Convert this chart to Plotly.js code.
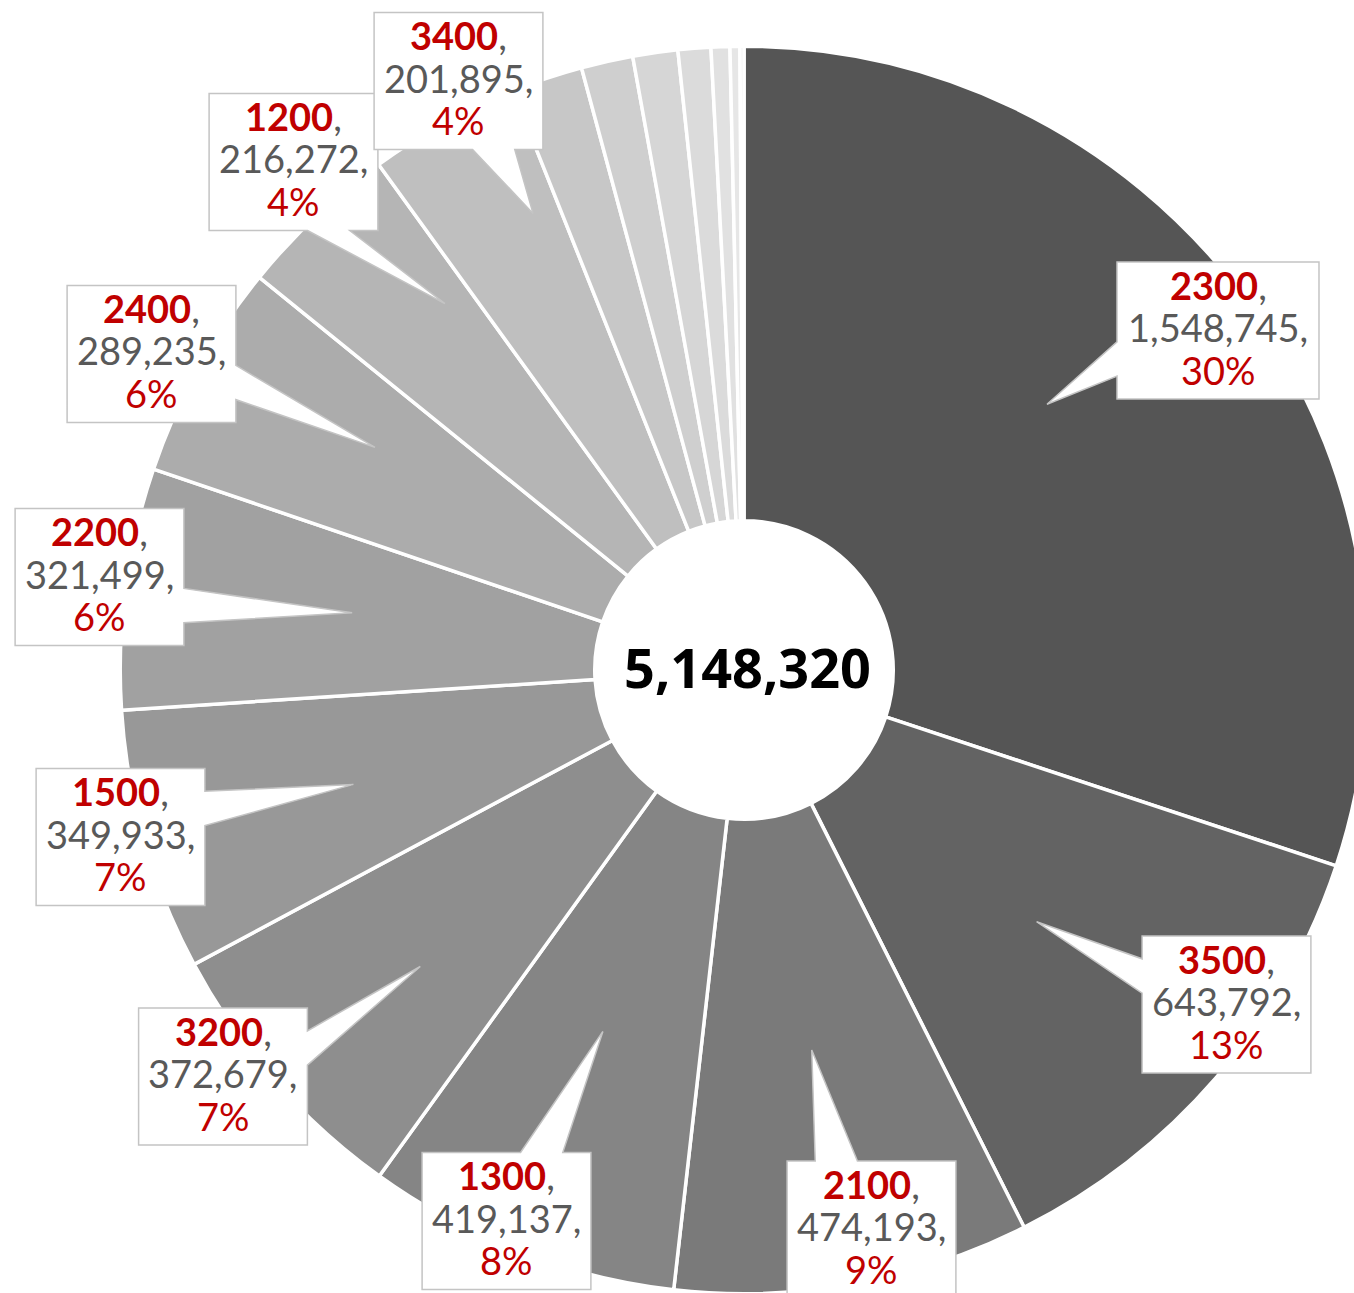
<!DOCTYPE html>
<html><head><meta charset="utf-8">
<script src="https://cdn.plot.ly/plotly-3.0.1.min.js"></script>
<style>html,body{margin:0;padding:0;overflow:hidden;background:#fff}#chart{width:1400px;height:1300px}</style>
</head><body><div id="chart"></div>
<script>
// ---------- data ----------
const categories = ['2300','3500','2100','1300','3200','1500','2200','2400','1200','3400',
                    'Other 1','Other 2','Other 3','Other 4','Other 5','Other 6','Other 7'];
const values = [1548745,643792,474193,419137,372679,349933,321499,289235,216272,201895,
                94960,68930,59920,43620,25030,13160,5320];
const labeledCount = 10;   // first 10 slices carry callouts

// ---------- style / layout ----------
const sliceColors = ['#555555','#636363','#7a7a7a','#858585','#8e8e8e','#989898','#a1a1a1','#acacac','#b5b5b5','#bfbfbf',
                     '#c7c7c7','#cfcfcf','#d6d6d6','#dbdbdb','#e1e1e1','#e6e6e6','#ebebeb'];
const W = 1400, H = 1300, CX = 744, CY = 670, R = 622, BORDER = 3.5, HOLE_R = 151;
const calloutBox = [[1218,330.5],[1226.5,1004.5],[871.5,1229.5],[506.5,1221],[223,1076.5],
                    [120.5,837],[99.5,577],[151.5,354],[293.5,162],[458.5,81]];
const calloutTipR = [403,386,386,388,439,407,396,431,473,503];
const calloutTipAdj = [-5.4,-0.1,0,0.2,-1.3,-0.4,0.75,2.2,4.2,4.0];
const BOX_H = 137, LINE_GAP = 42.5;
const RED = '#c00000', GRAY = '#595959', FONT = 'Lato, "Noto Sans", sans-serif';

const X = px => px / W;
const Y = py => 1 - py / H;
const Rd = R + BORDER / 2;

const total = values.reduce((a, b) => a + b, 0);
const fmt = v => v.toLocaleString('en-US');

const trace = {
  type: 'pie',
  labels: categories,
  values: values,
  sort: false,
  direction: 'clockwise',
  rotation: 0,
  hole: (HOLE_R - BORDER / 2) / Rd,
  marker: { colors: sliceColors, line: { color: '#ffffff', width: BORDER } },
  textinfo: 'none',
  hoverinfo: 'none',
  showlegend: false,
  domain: { x: [X(CX - Rd), X(CX + Rd)], y: [Y(CY + Rd), Y(CY - Rd)] }
};

function calloutPath(cx, cy, w, h, tx, ty) {
  const l = cx - w / 2, r = cx + w / 2, t = cy - h / 2, b = cy + h / 2;
  const dx = tx - cx, dy = ty - cy;
  const horiz = Math.abs(dx * h / w) > Math.abs(dy);
  const xa = l + w * (dx > 0 ? 7 : 2) / 12, xb = l + w * (dx > 0 ? 10 : 5) / 12;
  const ya = t + h * (dy > 0 ? 7 : 2) / 12, yb = t + h * (dy > 0 ? 10 : 5) / 12;
  const pts = [[l, t]];
  if (!horiz && dy < 0) pts.push([xa, t], [tx, ty], [xb, t]);
  pts.push([r, t]);
  if (horiz && dx > 0) pts.push([r, ya], [tx, ty], [r, yb]);
  pts.push([r, b]);
  if (!horiz && dy > 0) pts.push([xb, b], [tx, ty], [xa, b]);
  pts.push([l, b]);
  if (horiz && dx < 0) pts.push([l, yb], [tx, ty], [l, ya]);
  return 'M' + pts.map(p => X(p[0]).toFixed(5) + ',' + Y(p[1]).toFixed(5)).join('L') + 'Z';
}

const shapes = [], annotations = [];
let cum = 0;
for (let i = 0; i < values.length; i++) {
  const mid = (cum + values[i] / 2) / total * 360;
  cum += values[i];
  if (i >= labeledCount) continue;
  const a = (mid + calloutTipAdj[i]) * Math.PI / 180;
  const tx = CX + calloutTipR[i] * Math.sin(a), ty = CY - calloutTipR[i] * Math.cos(a);
  const [bx, by] = calloutBox[i];
  const valTxt = fmt(values[i]) + ',';
  const bw = 36 + 16.6 * valTxt.length;
  shapes.push({ type: 'path', xref: 'paper', yref: 'paper', layer: 'above',
    path: calloutPath(bx, by, bw, BOX_H, tx, ty),
    fillcolor: '#ffffff', line: { color: '#c4c4c4', width: 1.5 } });
  const pct = Math.round(values[i] / total * 100) + '%';
  const lines = [
    { t: '<b>' + categories[i] + '</b><span style="color:' + GRAY + '">,</span>', c: RED },
    { t: valTxt, c: GRAY },
    { t: pct, c: RED }
  ];
  lines.forEach((ln, k) => {
    annotations.push({ xref: 'paper', yref: 'paper', x: X(bx), y: Y(by + (k - 1) * LINE_GAP - 3.5),
      xanchor: 'center', yanchor: 'middle', showarrow: false, text: ln.t,
      font: { family: FONT, size: 38, color: ln.c } });
  });
}
annotations.push({ xref: 'paper', yref: 'paper', x: X(747.5), y: Y(667), xanchor: 'center', yanchor: 'middle',
  showarrow: false, text: '<b>' + fmt(total) + '</b>',
  font: { family: '"Open Sans", Lato, sans-serif', size: 54, color: '#000000' } });

const layout = {
  width: W, height: H,
  margin: { l: 0, r: 0, t: 0, b: 0 },
  paper_bgcolor: '#ffffff',
  showlegend: false,
  shapes: shapes,
  annotations: annotations
};
Plotly.newPlot('chart', [trace], layout, { displayModeBar: false, staticPlot: true });
</script>
</body></html>
